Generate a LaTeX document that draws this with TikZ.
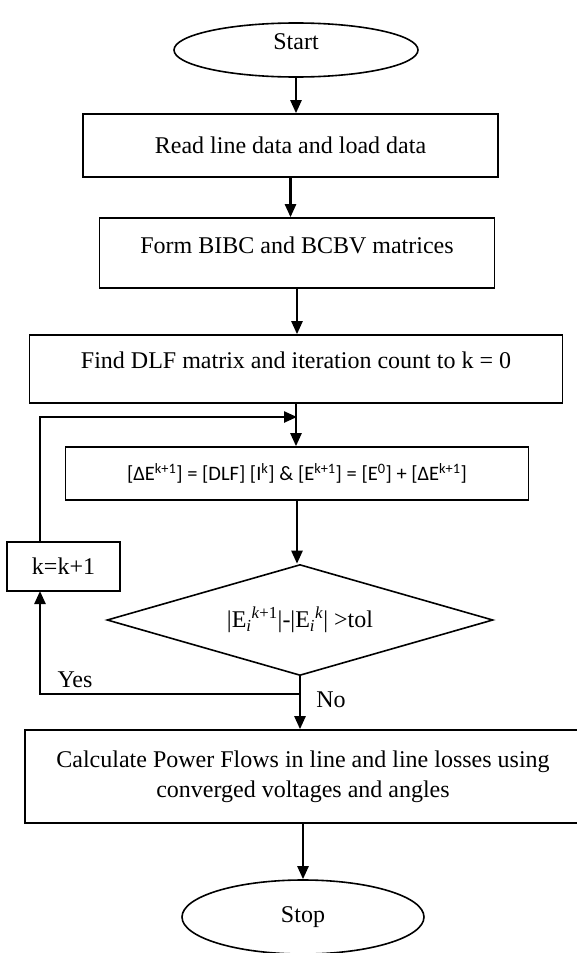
\documentclass[tikz,border=0pt]{standalone}
\usepackage{fontspec}
\setmainfont{Liberation Serif}
\newfontfamily\calibri{Carlito}
\usetikzlibrary{shapes.geometric,arrows.meta}

\begin{document}
\begin{tikzpicture}[x=1pt,y=-1pt,font=\fontsize{24}{30}\selectfont,
  box/.style={draw,line width=1.6pt,inner sep=0pt},
  term/.style={draw,ellipse,line width=1.6pt,inner sep=0pt},
  flow/.style={line width=2.4pt,-{Triangle[length=13pt,width=11pt]}}]
\useasboundingbox (0,0) rectangle (576,953);
\node[term,minimum width=244pt,minimum height=54pt,text depth=16pt] (start) at (296,50) {Start};
\node[box,minimum width=415pt,minimum height=63pt] (read) at (290.5,145.5) {Read line data and load data};
\node[box,minimum width=395pt,minimum height=70pt,text depth=16pt] (form) at (297,253) {Form BIBC and BCBV matrices};
\node[box,minimum width=533pt,minimum height=68pt,text depth=18pt] (dlf) at (296,369) {Find DLF matrix and iteration count to k = 0};
\node[box,minimum width=463pt,minimum height=53pt,font=\calibri\fontsize{20.5}{24}\selectfont] (update) at (297,473.5)
  {[ΔE\textsuperscript{k+1}] = [DLF] [I\textsuperscript{k}] \& [E\textsuperscript{k+1}] = [E\textsuperscript{0}] + [ΔE\textsuperscript{k+1}]};
\node[draw,diamond,line width=1.6pt,inner sep=0pt,minimum width=386pt,minimum height=111pt,aspect=3.5] (check) at (300,620)
  {|E\textsubscript{\textit{i}}\textsuperscript{\textit{k}+1}|-|E\textsubscript{\textit{i}}\textsuperscript{\textit{k}}| >tol};
\node[box,minimum width=113pt,minimum height=49pt] (kinc) at (63.5,566.5) {k=k+1};
\node[box,minimum width=556pt,minimum height=93pt,align=center] (calc) at (303,776.5)
  {Calculate Power Flows in line and line losses using\\converged voltages and angles};
\node[term,minimum width=242pt,minimum height=74pt] (stop) at (303,917) {Stop};
\node (yes) at (75,680) {Yes};
\node (no) at (331,700) {No};
\coordinate (split) at (check.south |- 0,694);
\coordinate (merge) at (297,417);
\coordinate (ktop) at (40,542);
\coordinate (kbot) at (40,591);
\foreach \from/\to in {start/read,read/form,form/dlf,dlf/update,update/check}
  \draw[flow] (\from.south) -- (\from.south |- \to.north);
\draw[line width=2.4pt] (check.south) -- (split);
\draw[flow] (split) -- (split |- calc.north);
\draw[flow] (split) -| (kbot);
\draw[flow] (ktop) |- (merge); % loop back
\draw[flow] (calc) -- (stop);
\end{tikzpicture}
\end{document}
